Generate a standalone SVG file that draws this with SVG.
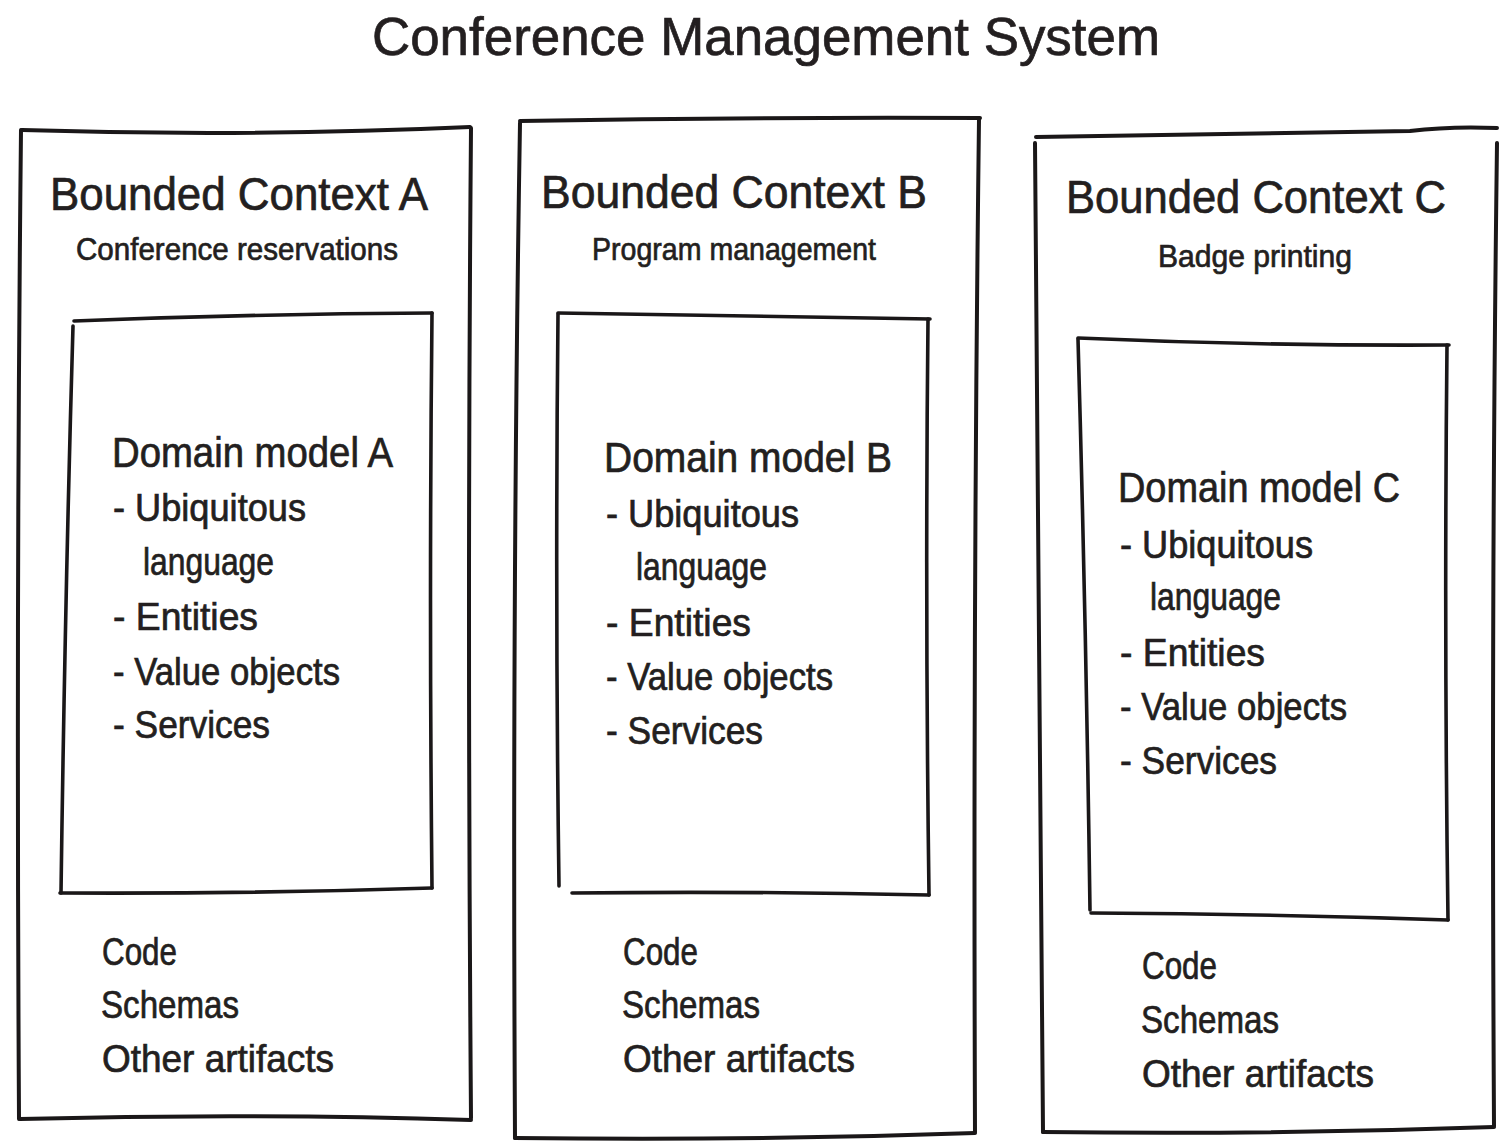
<svg xmlns="http://www.w3.org/2000/svg" width="1500" height="1143" viewBox="0 0 1500 1143">
<style>
.ln{fill:none;stroke:#1a1718;stroke-width:4;stroke-linecap:round;stroke-linejoin:round}
.in{stroke-width:3.6}
text{font-family:"Liberation Sans","DejaVu Sans",sans-serif;fill:#231f20;stroke:#231f20;stroke-width:0.7}
.ttl{font-size:54px}
.hd{font-size:47px}
.sub{font-size:32px}
.dm{font-size:42px}
.it{font-size:38px}
</style>
<rect width="1500" height="1143" fill="#ffffff"/>
<text class="ttl" x="372" y="55" textLength="788" lengthAdjust="spacingAndGlyphs">Conference Management System</text>

<g id="contextA">
<path class="ln" d="M22,130 Q250,137 470,127"/>
<path class="ln" d="M471,128 Q467,600 471,1118"/>
<path class="ln" d="M471,1120 Q250,1113 20,1119"/>
<path class="ln" d="M21,130 Q16,600 19,1119"/>
<text class="hd" x="50" y="210" textLength="378" lengthAdjust="spacingAndGlyphs">Bounded Context A</text>
<text class="sub" x="76" y="260" textLength="322" lengthAdjust="spacingAndGlyphs">Conference reservations</text>
<g id="domainA">
<path class="ln in" d="M74,321 Q250,314 432,313"/>
<path class="ln in" d="M432,313 Q429,600 432,888"/>
<path class="ln in" d="M432,888 Q250,894 60,893"/>
<path class="ln in" d="M73,326 Q65,600 61,893"/>
<text class="dm" x="112" y="467" textLength="281" lengthAdjust="spacingAndGlyphs">Domain model A</text>
<text class="it" x="113" y="521" textLength="193" lengthAdjust="spacingAndGlyphs">- Ubiquitous</text>
<text class="it" x="143" y="575" textLength="131" lengthAdjust="spacingAndGlyphs">language</text>
<text class="it" x="113" y="630" textLength="145" lengthAdjust="spacingAndGlyphs">- Entities</text>
<text class="it" x="113" y="685" textLength="227" lengthAdjust="spacingAndGlyphs">- Value objects</text>
<text class="it" x="113" y="738" textLength="157" lengthAdjust="spacingAndGlyphs">- Services</text>
</g>
<text class="it" x="102" y="965" textLength="75" lengthAdjust="spacingAndGlyphs">Code</text>
<text class="it" x="101" y="1018" textLength="138" lengthAdjust="spacingAndGlyphs">Schemas</text>
<text class="it" x="102" y="1072" textLength="232" lengthAdjust="spacingAndGlyphs">Other artifacts</text>
</g>

<g id="contextB">
<path class="ln" d="M520,121 Q750,117 980,118"/>
<path class="ln" d="M979,119 Q973,600 975,1132"/>
<path class="ln" d="M975,1133 Q750,1141 515,1138"/>
<path class="ln" d="M520,123 Q512,600 515,1138"/>
<text class="hd" x="541" y="208" textLength="386" lengthAdjust="spacingAndGlyphs">Bounded Context B</text>
<text class="sub" x="592" y="260" textLength="284" lengthAdjust="spacingAndGlyphs">Program management</text>
<g id="domainB">
<path class="ln in" d="M558,313 Q740,316 930,319"/>
<path class="ln in" d="M928,319 Q925,600 929,895"/>
<path class="ln in" d="M929,895 Q750,891 572,893"/>
<path class="ln in" d="M558,314 Q555,600 559,886"/>
<text class="dm" x="604" y="472" textLength="288" lengthAdjust="spacingAndGlyphs">Domain model B</text>
<text class="it" x="606" y="527" textLength="193" lengthAdjust="spacingAndGlyphs">- Ubiquitous</text>
<text class="it" x="636" y="580" textLength="131" lengthAdjust="spacingAndGlyphs">language</text>
<text class="it" x="606" y="636" textLength="145" lengthAdjust="spacingAndGlyphs">- Entities</text>
<text class="it" x="606" y="690" textLength="227" lengthAdjust="spacingAndGlyphs">- Value objects</text>
<text class="it" x="606" y="744" textLength="157" lengthAdjust="spacingAndGlyphs">- Services</text>
</g>
<text class="it" x="623" y="965" textLength="75" lengthAdjust="spacingAndGlyphs">Code</text>
<text class="it" x="622" y="1018" textLength="138" lengthAdjust="spacingAndGlyphs">Schemas</text>
<text class="it" x="623" y="1072" textLength="232" lengthAdjust="spacingAndGlyphs">Other artifacts</text>
</g>

<g id="contextC">
<path class="ln" d="M1036,137 Q1250,134 1410,131 Q1450,126 1497,128"/>
<path class="ln" d="M1497,143 Q1491,600 1494,1126"/>
<path class="ln" d="M1494,1127 Q1270,1135 1043,1132"/>
<path class="ln" d="M1035,143 Q1040,600 1043,1132"/>
<text class="hd" x="1066" y="213" textLength="380" lengthAdjust="spacingAndGlyphs">Bounded Context C</text>
<text class="sub" x="1158" y="267" textLength="194" lengthAdjust="spacingAndGlyphs">Badge printing</text>
<g id="domainC">
<path class="ln in" d="M1078,338 Q1260,346 1449,345"/>
<path class="ln in" d="M1447,345 Q1444,630 1448,920"/>
<path class="ln in" d="M1448,920 Q1270,914 1091,913"/>
<path class="ln in" d="M1078,339 Q1086,620 1090,910"/>
<text class="dm" x="1118" y="502" textLength="282" lengthAdjust="spacingAndGlyphs">Domain model C</text>
<text class="it" x="1120" y="558" textLength="193" lengthAdjust="spacingAndGlyphs">- Ubiquitous</text>
<text class="it" x="1150" y="610" textLength="131" lengthAdjust="spacingAndGlyphs">language</text>
<text class="it" x="1120" y="666" textLength="145" lengthAdjust="spacingAndGlyphs">- Entities</text>
<text class="it" x="1120" y="720" textLength="227" lengthAdjust="spacingAndGlyphs">- Value objects</text>
<text class="it" x="1120" y="774" textLength="157" lengthAdjust="spacingAndGlyphs">- Services</text>
</g>
<text class="it" x="1142" y="979" textLength="75" lengthAdjust="spacingAndGlyphs">Code</text>
<text class="it" x="1141" y="1033" textLength="138" lengthAdjust="spacingAndGlyphs">Schemas</text>
<text class="it" x="1142" y="1087" textLength="232" lengthAdjust="spacingAndGlyphs">Other artifacts</text>
</g>

<g id="connectors"></g>
</svg>
